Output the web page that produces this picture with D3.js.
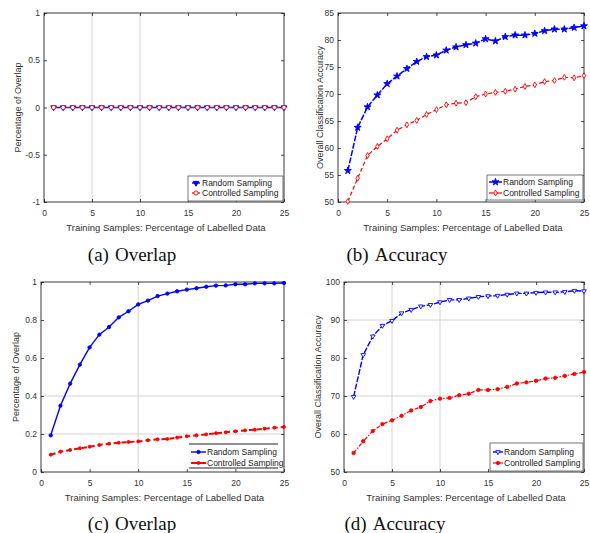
<!DOCTYPE html>
<html>
<head>
<meta charset="utf-8">
<script src="https://cdn.jsdelivr.net/npm/d3@7"></script>
<style>
  body { margin: 0; background: #fff; }
  svg { display: block; }
</style>
</head>
<body>
<svg id="fig" width="590" height="533"></svg>
<script>
// Training set size (% of labelled data)
const trainingPct = [1, 2, 3, 4, 5, 6, 7, 8, 9, 10, 11, 12, 13, 14, 15, 16, 17, 18, 19, 20, 21, 22, 23, 24, 25];

// (a) overlap
const overlapRandomA     = [0, 0, 0, 0, 0, 0, 0, 0, 0, 0, 0, 0, 0, 0, 0, 0, 0, 0, 0, 0, 0, 0, 0, 0, 0];
const overlapControlledA = [0, 0, 0, 0, 0, 0, 0, 0, 0, 0, 0, 0, 0, 0, 0, 0, 0, 0, 0, 0, 0, 0, 0, 0, 0];

// (b) accuracy
const accRandomB     = [55.8, 63.8, 67.6, 69.8, 71.9, 73.3, 74.7, 76.0, 76.9, 77.2, 78.1, 78.7, 79.1, 79.4, 80.2,
                        79.8, 80.6, 80.9, 80.9, 81.2, 81.7, 82.0, 82.0, 82.3, 82.6];
const accControlledB = [50.1, 54.4, 58.6, 60.3, 61.7, 63.3, 64.3, 65.1, 66.2, 67.1, 68.0, 68.3, 68.4, 69.5, 70.0,
                        70.3, 70.5, 70.9, 71.4, 71.7, 72.3, 72.5, 73.1, 73.0, 73.4];

// (c) overlap
const overlapRandomC     = [0.193, 0.349, 0.465, 0.565, 0.656, 0.723, 0.763, 0.814, 0.846, 0.882, 0.902, 0.926, 0.939,
                            0.951, 0.960, 0.967, 0.975, 0.981, 0.982, 0.988, 0.988, 0.993, 0.993, 0.993, 0.995];
const overlapControlledC = [0.091, 0.107, 0.116, 0.125, 0.133, 0.142, 0.149, 0.154, 0.158, 0.161, 0.167, 0.172, 0.174,
                            0.181, 0.188, 0.193, 0.198, 0.204, 0.209, 0.214, 0.219, 0.223, 0.228, 0.233, 0.237];

// (d) accuracy
const accRandomD     = [69.8, 80.8, 85.7, 88.5, 89.8, 91.8, 92.7, 93.6, 94.0, 94.7, 95.3, 95.3, 95.7, 96.1, 96.3,
                        96.4, 96.7, 97.0, 97.0, 97.2, 97.3, 97.3, 97.4, 97.7, 97.6];
const accControlledD = [55.0, 58.1, 60.8, 62.6, 63.6, 64.8, 66.2, 67.1, 68.7, 69.3, 69.5, 70.2, 70.6, 71.6, 71.6,
                        71.8, 72.4, 73.3, 73.6, 74.0, 74.6, 74.8, 75.3, 75.8, 76.3];

// Axis ticks
const xTicks  = [0, 5, 10, 15, 20, 25];
const yTicksA = [-1, -0.5, 0, 0.5, 1];
const yTicksB = [50, 55, 60, 65, 70, 75, 80, 85];
const yTicksC = [0, 0.2, 0.4, 0.6, 0.8, 1];
const yTicksD = [50, 60, 70, 80, 90, 100];

// Text
const seriesNames = ["Random Sampling", "Controlled Sampling"];
const xTitle = "Training Samples: Percentage of Labelled Data";
const yTitleOverlap = "Percentage of Overlap";
const yTitleAccuracy = "Overall Classification Accuracy";
const captionTags = ["(a)", "(b)", "(c)", "(d)"];
const captionWords = ["Overlap", "Accuracy", "Overlap", "Accuracy"];

const BLUE = "#0000ff", RED = "#ff0000";
const SANS = "'Liberation Sans', Arial, Helvetica, sans-serif";
const SERIF = "'Liberation Serif', 'Times New Roman', serif";

const svg = d3.select("#fig");

const panels = [
  {
    box: [44, 13, 284, 202], yDomain: [-1, 1], yTicks: yTicksA, yTitle: yTitleOverlap, yTitleX: 18,
    grid: { x: [5, 10], y: [] },
    series: [
      { values: overlapRandomA, color: BLUE, dash: null, width: 1.4, sym: d3.symbolTriangle, rot: 180, size: 14, fill: true },
      { values: overlapControlledA, color: RED, dash: "4,2", width: 1.2, sym: d3.symbolCircle, rot: 0, size: 14, fill: false }
    ],
    legend: { x: 188, y: 176, w: 95, h: 25, rows: [183, 193], lx0: 192, lx1: 200, tx: 202 },
    caption: { x: 132, y: 261 }
  },
  {
    box: [338, 13, 584, 202], yDomain: [50, 85], yTicks: yTicksB, yTitle: yTitleAccuracy, yTitleX: 320,
    grid: { x: [], y: [] },
    series: [
      { values: accRandomB, color: BLUE, dash: "6,1.5", width: 1.5, sym: d3.symbolStar, rot: 0, size: 15, fill: true },
      { values: accControlledB, color: RED, dash: "4,2.5", width: 1.2, sym: d3.symbolDiamond, rot: 0, size: 10, fill: false }
    ],
    legend: { x: 487, y: 175, w: 96, h: 25, rows: [182, 193], lx0: 489, lx1: 502, tx: 503 },
    caption: { x: 397, y: 261 }
  },
  {
    box: [41, 282, 284, 472], yDomain: [0, 1], yTicks: yTicksC, yTitle: yTitleOverlap, yTitleX: 16,
    grid: { x: [10], y: [0.2, 0.4] },
    series: [
      { values: overlapRandomC, color: BLUE, dash: null, width: 1.4, sym: d3.symbolCircle, rot: 0, size: 9, fill: true },
      { values: overlapControlledC, color: RED, dash: "5,3", width: 2, sym: d3.symbolCircle, rot: 0, size: 7, fill: true }
    ],
    legend: { x: 189, y: 444, w: 89, h: 24, rows: [452, 463], lx0: 191, lx1: 206, tx: 207, hLinesOnly: true },
    caption: { x: 132, y: 530 }
  },
  {
    box: [344, 282, 584, 472], yDomain: [50, 100], yTicks: yTicksD, yTitle: yTitleAccuracy, yTitleX: 318,
    grid: { x: [5, 10], y: [70, 90] },
    series: [
      { values: accRandomD, color: BLUE, dash: "6,1.5", width: 1.4, sym: d3.symbolTriangle, rot: 180, size: 9, fill: false },
      { values: accControlledD, color: RED, dash: "4,1.5,1.5,1.5", width: 1.2, sym: d3.symbolCircle, rot: 0, size: 9, fill: true }
    ],
    legend: { x: 490, y: 443, w: 93, h: 28, rows: [452, 463], lx0: 493, lx1: 503, tx: 504 },
    caption: { x: 395, y: 530 }
  }
];

panels.forEach((p, i) => {
  const [x0, y0, x1, y1] = p.box;
  const x = d3.scaleLinear().domain([0, 25]).range([x0, x1]);
  const y = d3.scaleLinear().domain(p.yDomain).range([y1, y0]);
  const g = svg.append("g");

  // light grid lines
  g.selectAll(".gx").data(p.grid.x).join("line")
    .attr("x1", d => x(d)).attr("x2", d => x(d)).attr("y1", y0).attr("y2", y1)
    .attr("stroke", "#d4d4d4").attr("stroke-width", 1);
  g.selectAll(".gy").data(p.grid.y).join("line")
    .attr("x1", x0).attr("x2", x1).attr("y1", d => y(d)).attr("y2", d => y(d))
    .attr("stroke", "#d4d4d4").attr("stroke-width", 1);

  // axes with inward ticks on all four sides
  const fmt = d => String(d);
  const styleAxis = sel => {
    sel.select(".domain").remove();
    sel.selectAll(".tick line").attr("stroke", "#222").attr("stroke-width", 0.8);
    sel.selectAll(".tick text").attr("fill", "#333").style("font-family", SANS).style("font-size", "8.5px");
  };
  g.append("g").attr("transform", `translate(0,${y1})`)
    .call(d3.axisBottom(x).tickValues(xTicks).tickFormat(fmt).tickSize(-3).tickPadding(8)).call(styleAxis);
  g.append("g").attr("transform", `translate(0,${y0})`)
    .call(d3.axisTop(x).tickValues(xTicks).tickFormat("").tickSize(-3)).call(styleAxis);
  g.append("g").attr("transform", `translate(${x0},0)`)
    .call(d3.axisLeft(y).tickValues(p.yTicks).tickFormat(fmt).tickSize(-3).tickPadding(4)).call(styleAxis);
  g.append("g").attr("transform", `translate(${x1},0)`)
    .call(d3.axisRight(y).tickValues(p.yTicks).tickFormat("").tickSize(-3)).call(styleAxis);

  // plot frame
  g.append("rect").attr("x", x0).attr("y", y0).attr("width", x1 - x0).attr("height", y1 - y0)
    .attr("fill", "none").attr("stroke", "#222").attr("stroke-width", 0.9);

  // series
  p.series.forEach(s => {
    const pts = trainingPct.map((t, k) => [t, s.values[k]]);
    g.append("path").datum(pts)
      .attr("d", d3.line().x(d => x(d[0])).y(d => y(d[1])))
      .attr("fill", "none").attr("stroke", s.color).attr("stroke-width", s.width)
      .attr("stroke-dasharray", s.dash);
    const sym = d3.symbol().type(s.sym).size(s.size);
    g.selectAll(null).data(pts).join("path")
      .attr("d", sym)
      .attr("transform", d => `translate(${x(d[0])},${y(d[1])}) rotate(${s.rot})`)
      .attr("fill", s.fill ? s.color : "#fff").attr("stroke", s.color).attr("stroke-width", 0.9);
  });

  // axis titles
  g.append("text").attr("x", (x0 + x1) / 2 + 2).attr("y", y1 + 29)
    .attr("text-anchor", "middle").attr("fill", "#333")
    .style("font-family", SANS).style("font-size", "9.5px").text(xTitle);
  g.append("text").attr("transform", `translate(${p.yTitleX},${(y0 + y1) / 2}) rotate(-90)`)
    .attr("text-anchor", "middle").attr("dy", "0.35em").attr("fill", "#333")
    .style("font-family", SANS).style("font-size", "9px").text(p.yTitle);

  // legend
  const L = p.legend;
  const lg = g.append("g");
  lg.append("rect").attr("x", L.x).attr("y", L.y).attr("width", L.w).attr("height", L.h)
    .attr("fill", "#fff").attr("stroke", L.hLinesOnly ? "none" : "#555").attr("stroke-width", 0.8);
  if (L.hLinesOnly) {
    [L.y, L.y + L.h].forEach(yy => lg.append("line")
      .attr("x1", L.x).attr("x2", L.x + L.w).attr("y1", yy).attr("y2", yy)
      .attr("stroke", "#222").attr("stroke-width", 1.2));
  }
  p.series.forEach((s, k) => {
    const ry = L.rows[k];
    lg.append("line").attr("x1", L.lx0).attr("x2", L.lx1).attr("y1", ry).attr("y2", ry)
      .attr("stroke", s.color).attr("stroke-width", s.width);
    lg.append("path").attr("d", d3.symbol().type(s.sym).size(s.size))
      .attr("transform", `translate(${(L.lx0 + L.lx1) / 2},${ry}) rotate(${s.rot})`)
      .attr("fill", s.fill ? s.color : "#fff").attr("stroke", s.color).attr("stroke-width", 0.9);
    lg.append("text").attr("x", L.tx).attr("y", ry).attr("dy", "0.35em").attr("fill", "#222")
      .style("font-family", SANS).style("font-size", "8.5px").text(seriesNames[k]);
  });

  // sub-caption
  const cap = svg.append("text").attr("x", p.caption.x).attr("y", p.caption.y)
    .attr("text-anchor", "middle").attr("fill", "#111")
    .style("font-family", SERIF).style("font-size", "19px");
  cap.append("tspan").text(captionTags[i]);
  cap.append("tspan").attr("dx", "6").text(captionWords[i]);
});
</script>
</body>
</html>
